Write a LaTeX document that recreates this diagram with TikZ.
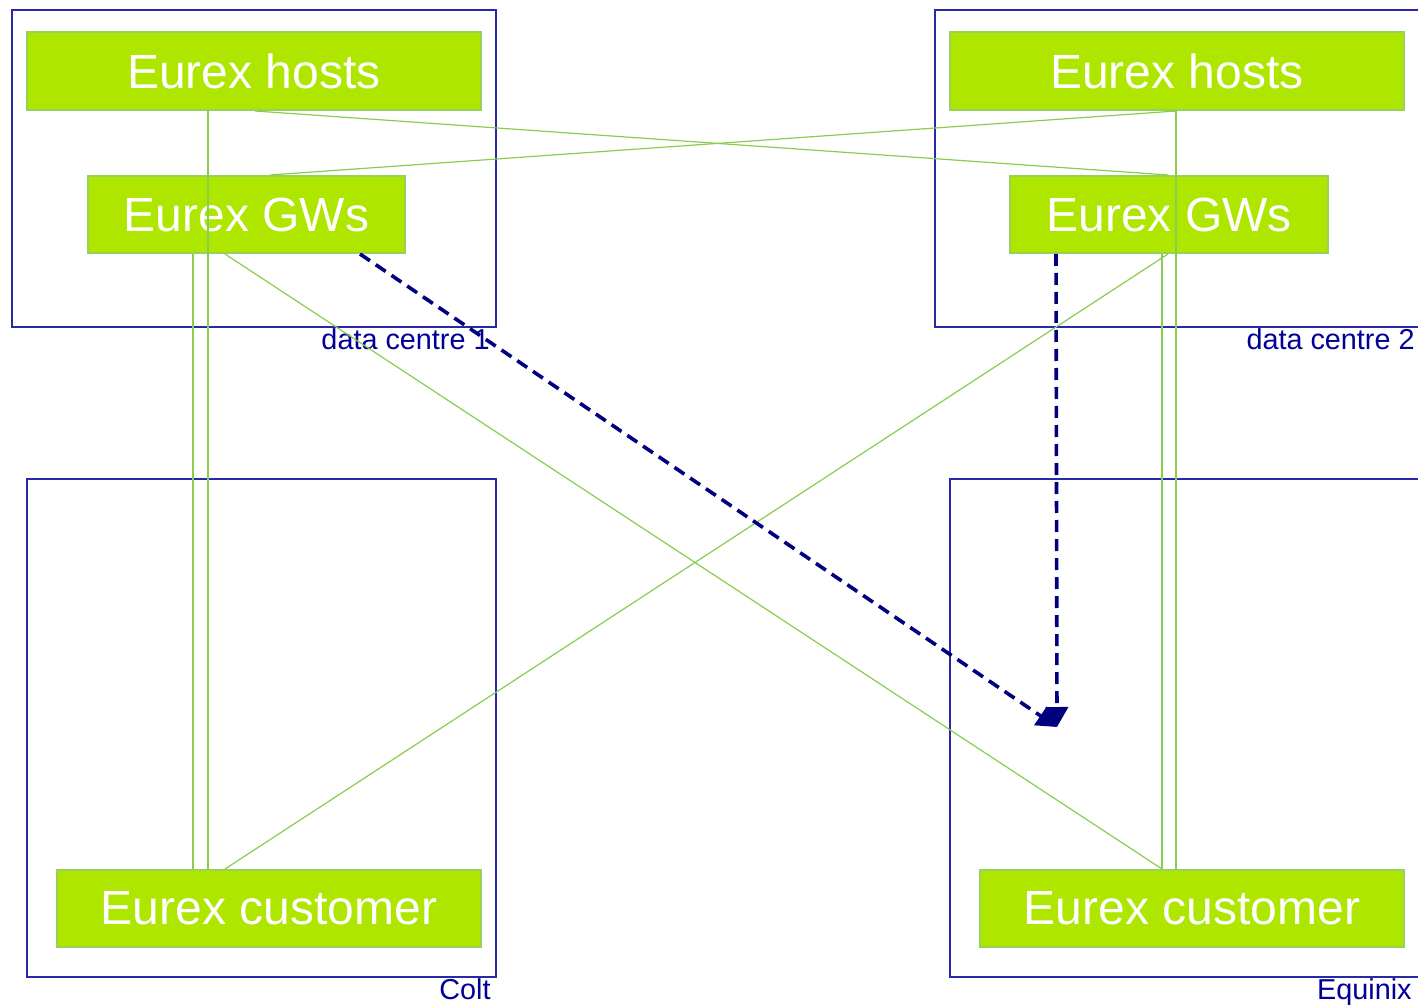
\documentclass[tikz,border=0pt]{standalone}
\usepackage{fontspec}
\setmainfont{Liberation Sans}
\usetikzlibrary{arrows.meta}
\definecolor{gfill}{RGB}{174,230,0}
\definecolor{gedge}{RGB}{150,210,90}
\definecolor{gline}{RGB}{136,204,80}
\definecolor{frame}{RGB}{40,40,170}
\definecolor{lbl}{RGB}{0,0,150}
\definecolor{arr}{RGB}{0,0,128}
\tikzset{
  gbox/.style={draw=gedge, line width=1pt, fill=gfill, text=white, inner sep=0pt, font=\fontsize{24}{28}\selectfont},
  cont/.style={draw=frame, line width=0.6pt, inner sep=0pt},
  clabel/.style={text=lbl, inner sep=0pt, font=\fontsize{14.4}{16}\selectfont},
  link/.style={draw=gline, line width=0.6pt},
  flow/.style={draw=arr, line width=1.8pt, dash pattern=on 6pt off 3.5pt, -{Triangle[length=10pt,width=11pt]}},
}
\begin{document}
\begin{tikzpicture}[x=0.5pt,y=-0.5pt]
\useasboundingbox (0,0) rectangle (1418,1005);
% containers
\node[cont, minimum width=242pt, minimum height=158.5pt] (dc1) at (254,168.5) {};
\node[cont, minimum width=242.5pt, minimum height=158.5pt] (dc2) at (1177.5,168.5) {};
\node[cont, minimum width=234.5pt, minimum height=249pt] (colt) at (261.5,728) {};
\node[cont, minimum width=235pt, minimum height=249pt] (eqx) at (1185,728) {};
\node[clabel, anchor=base east] (l1) at (490,350) {data centre 1};
\node[clabel, anchor=base east] (l2) at (1415,350) {data centre 2};
\node[clabel, anchor=base east] (l3) at (491,999) {Colt};
\node[clabel, anchor=base east] (l4) at (1412,999) {Equinix};
% green boxes
\node[gbox, minimum width=227pt, minimum height=39pt] (h1) at (254,71) {Eurex hosts};
\node[gbox, minimum width=158.5pt, minimum height=38.5pt] (g1) at (246.5,214.5) {Eurex GWs};
\node[gbox, minimum width=227pt, minimum height=39pt] (h2) at (1177,71) {Eurex hosts};
\node[gbox, minimum width=159pt, minimum height=38.5pt] (g2) at (1169,214.5) {Eurex GWs};
\node[gbox, minimum width=212pt, minimum height=38.5pt] (c1) at (269,908.5) {Eurex customer};
\node[gbox, minimum width=212pt, minimum height=38.5pt] (c2) at (1192,908.5) {Eurex customer};
% links
\draw[link] (h1.south -| 208,0) -- (c1.north -| 208,0);
\draw[link] (h1.south -| 255,0) -- (g2.north -| 1168,0);
\draw[link] (h2.south -| 1176,0) -- (g1.north -| 270,0);
\draw[link] (h2.south -| 1176,0) -- (c2.north -| 1176,0);
\draw[link] (g1.south -| 193,0) -- (c1.north -| 193,0);
\draw[link] (g1.south -| 225,0) -- (c2.north -| 1162,0);
\draw[link] (g2.south -| 1168,0) -- (c1.north -| 225,0);
\draw[link] (g2.south -| 1162,0) -- (c2.north -| 1162,0);
% flows
\coordinate (t) at (1057,727);
\draw[flow] (g1.south -| 360,0) -- (t);
\draw[flow] (g2.south -| 1056,0) -- (t);
\end{tikzpicture}
\end{document}
